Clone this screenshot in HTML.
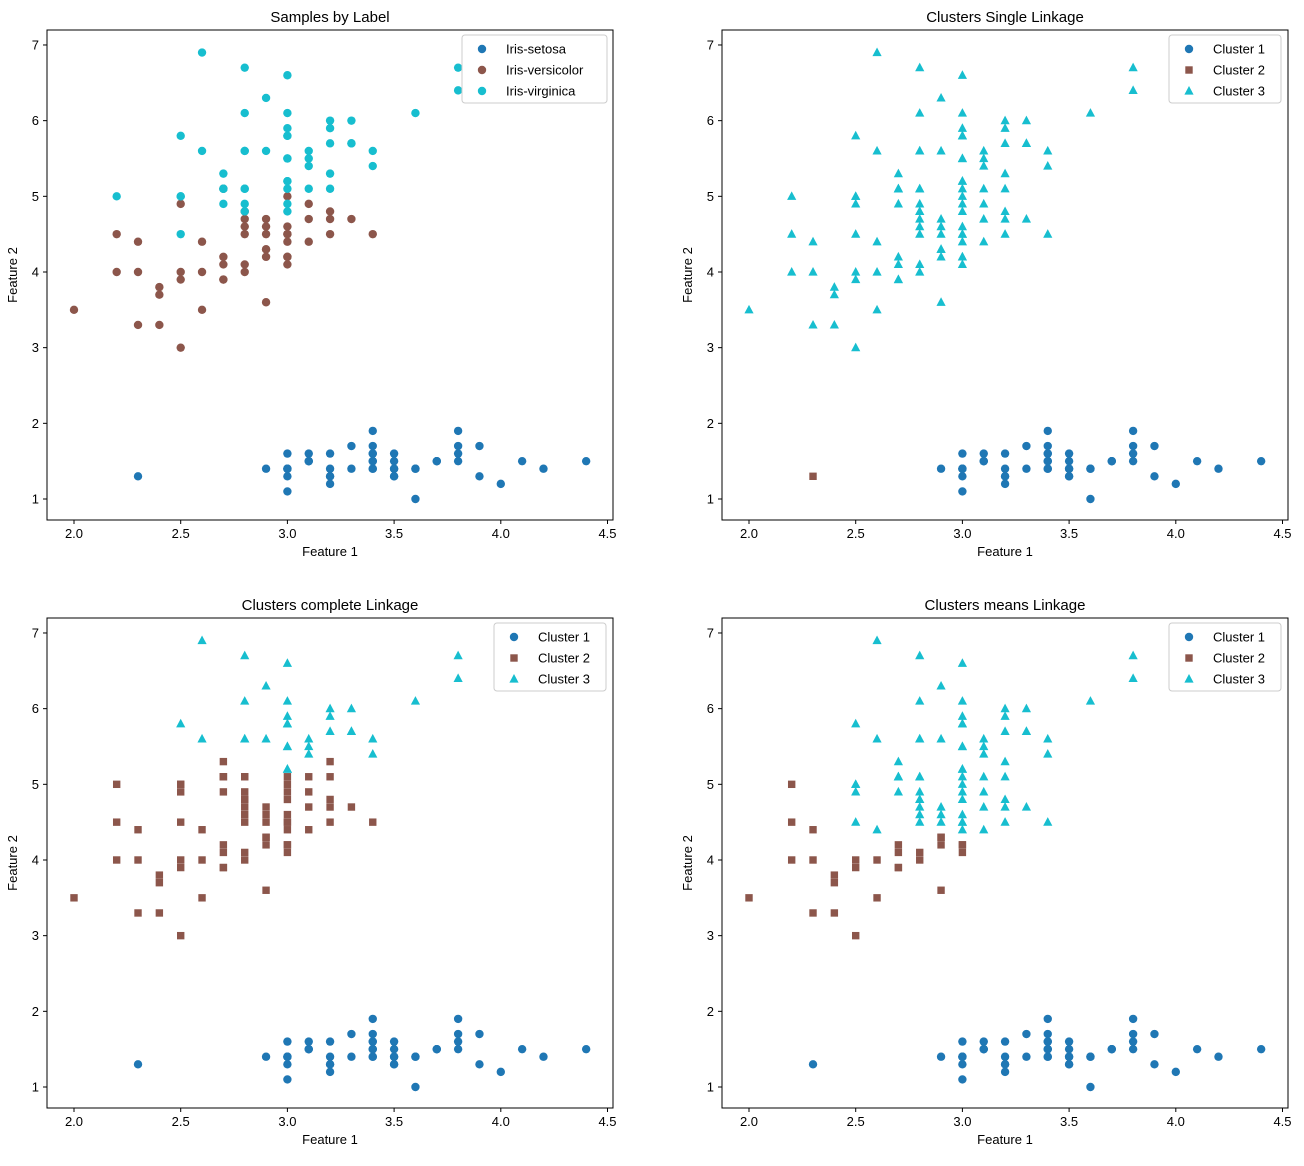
<!DOCTYPE html>
<html><head><meta charset="utf-8"><style>
body{margin:0;background:#fff;}
svg text{font-family:"Liberation Sans","DejaVu Sans",sans-serif;fill:#000;}
</style></head><body>
<svg id="fig" width="1304" height="1161" xmlns="http://www.w3.org/2000/svg"></svg>
<script>
const sw=[3.5,3.0,3.2,3.1,3.6,3.9,3.4,3.4,2.9,3.1,3.7,3.4,3.0,3.0,4.0,4.4,3.9,3.5,3.8,3.8,3.4,3.7,3.6,3.3,3.4,3.0,3.4,3.5,3.4,3.2,3.1,3.4,4.1,4.2,3.1,3.2,3.5,3.6,3.0,3.4,3.5,2.3,3.2,3.5,3.8,3.0,3.8,3.2,3.7,3.3,
3.2,3.2,3.1,2.3,2.8,2.8,3.3,2.4,2.9,2.7,2.0,3.0,2.2,2.9,2.9,3.1,3.0,2.7,2.2,2.5,3.2,2.8,2.5,2.8,2.9,3.0,2.8,3.0,2.9,2.6,2.4,2.4,2.7,2.7,3.0,3.4,3.1,2.3,3.0,2.5,2.6,3.0,2.6,2.3,2.7,3.0,2.9,2.9,2.5,2.8,
3.3,2.7,3.0,2.9,3.0,3.0,2.5,2.9,2.5,3.6,3.2,2.7,3.0,2.5,2.8,3.2,3.0,3.8,2.6,2.2,3.2,2.8,2.8,2.7,3.3,3.2,2.8,3.0,2.8,3.0,2.8,3.8,2.8,2.8,2.6,3.0,3.4,3.1,3.0,3.1,3.1,3.1,2.7,3.2,3.3,3.0,2.5,3.0,3.4,3.0];
const pl=[1.4,1.4,1.3,1.5,1.4,1.7,1.4,1.5,1.4,1.5,1.5,1.6,1.4,1.1,1.2,1.5,1.3,1.4,1.7,1.5,1.7,1.5,1.0,1.7,1.9,1.6,1.6,1.5,1.4,1.6,1.6,1.5,1.5,1.4,1.5,1.2,1.3,1.4,1.3,1.5,1.3,1.3,1.3,1.6,1.9,1.4,1.6,1.4,1.5,1.4,
4.7,4.5,4.9,4.0,4.6,4.5,4.7,3.3,4.6,3.9,3.5,4.2,4.0,4.7,3.6,4.4,4.5,4.1,4.5,3.9,4.8,4.0,4.9,4.7,4.3,4.4,4.8,5.0,4.5,3.5,3.8,3.7,3.9,5.1,4.5,4.5,4.7,4.4,4.1,4.0,4.4,4.6,4.0,3.3,4.2,4.2,4.2,4.3,3.0,4.1,
6.0,5.1,5.9,5.6,5.8,6.6,4.5,6.3,5.8,6.1,5.1,5.3,5.5,5.0,5.1,5.3,5.5,6.7,6.9,5.0,5.7,4.9,6.7,4.9,5.7,6.0,4.8,4.9,5.6,5.8,6.1,6.4,5.6,5.1,5.6,6.1,5.6,5.5,4.8,5.4,5.6,5.1,5.1,5.9,5.7,5.2,5.0,5.2,5.4,5.1];
const S50="1".repeat(50);
const labTrue=S50+"2".repeat(50)+"3".repeat(50);
const labSingle="1".repeat(41)+"2"+"1".repeat(8)+"3".repeat(100);
const labComplete=S50+"2".repeat(50)+"3233332333"+"2232223332"+"3232332233"+"3332333323"+"3223332332";
const labMeans=S50+"3332333232"+"2223233222"+"3233233332"+"2223333222"+"3322222222"+"3".repeat(19)+"2"+"3".repeat(30);
const xTicks=[2.0,2.5,3.0,3.5,4.0,4.5];
const yTicks=[1,2,3,4,5,6,7];
const colors={"1":"#1f77b4","2":"#8c564b","3":"#17becf"};
const NS="http://www.w3.org/2000/svg";
const fig=document.getElementById('fig');
function el(t,a,p){const e=document.createElementNS(NS,t);for(const k in a)e.setAttribute(k,a[k]);(p||fig).appendChild(e);return e;}
function marker(g,shape,cx,cy,c){
  let e;
  if(shape==='o')e=el('circle',{cx:cx,cy:cy,r:4.2,fill:c},g);
  else if(shape==='s')e=el('rect',{x:cx-3.7,y:cy-3.7,width:7.4,height:7.4,fill:c},g);
  else e=el('polygon',{points:`${cx},${cy-5} ${cx-4.6},${cy+3.6} ${cx+4.6},${cy+3.6}`,fill:c},g);
  return e;
}
const panels=[
 {x0:47,y0:30,title:"Samples by Label",lab:labTrue,shapes:{"1":"o","2":"o","3":"o"},names:["Iris-setosa","Iris-versicolor","Iris-virginica"],lx:462,lw:145},
 {x0:722,y0:30,title:"Clusters Single Linkage",lab:labSingle,shapes:{"1":"o","2":"s","3":"^"},names:["Cluster 1","Cluster 2","Cluster 3"],lx:1169,lw:112},
 {x0:47,y0:618,title:"Clusters complete Linkage",lab:labComplete,shapes:{"1":"o","2":"s","3":"^"},names:["Cluster 1","Cluster 2","Cluster 3"],lx:494,lw:112},
 {x0:722,y0:618,title:"Clusters means Linkage",lab:labMeans,shapes:{"1":"o","2":"s","3":"^"},names:["Cluster 1","Cluster 2","Cluster 3"],lx:1169,lw:112}
];
panels.forEach((P,pi)=>{
  const W=566,H=490;
  const g=el('g',{});
  
  
  const X=v=>P.x0+27+(v-2.0)*213.4;
  const Y=v=>P.y0+469-(v-1)*75.67;
  const pts=el('g',{},g);
  
  
  for(let i=0;i<sw.length;i++){
    const k=P.lab[i];
    const m=marker(pts,P.shapes[k],X(sw[i]),Y(pl[i]),colors[k]);
    
    
  }
  const fr=el('rect',{x:P.x0,y:P.y0,width:W,height:H,fill:'none',stroke:'#000','stroke-width':1},g);
  
  
  xTicks.forEach(t=>{
    const x=X(t);
    el('line',{x1:x,y1:P.y0+H,x2:x,y2:P.y0+H+4,stroke:'#000'},g);
    const tx=el('text',{x:x,y:P.y0+H+18,'font-size':13,'text-anchor':'middle'},g);
    tx.textContent=t.toFixed(1);
    
    
  });
  yTicks.forEach(t=>{
    const y=Y(t);
    el('line',{x1:P.x0-4,y1:y,x2:P.x0,y2:y,stroke:'#000'},g);
    const tx=el('text',{x:P.x0-8,y:y+4.5,'font-size':13,'text-anchor':'end'},g);
    tx.textContent=t;
    
    
  });
  const tt=el('text',{x:P.x0+W/2,y:P.y0-8,'font-size':15,'text-anchor':'middle'},g);
  tt.textContent=P.title;
  
  
  const xl=el('text',{x:P.x0+W/2,y:P.y0+H+36,'font-size':13,'text-anchor':'middle'},g);
  xl.textContent="Feature 1";
  
  
  const yl=el('text',{x:0,y:0,'font-size':13,'text-anchor':'middle',transform:`translate(${P.x0-30},${P.y0+H/2}) rotate(-90)`},g);
  yl.textContent="Feature 2";
  
  
  const lg=el('g',{},g);
  
  
  el('rect',{x:P.lx,y:P.y0+5,width:P.lw,height:68,rx:3,fill:'#fff','fill-opacity':0.8,stroke:'#ccc'},lg);
  ["1","2","3"].forEach((k,j)=>{
    const cy=P.y0+19+j*21;
    const e=el('g',{},lg);
    
    
    marker(e,P.shapes[k],P.lx+20,cy,colors[k]);
    const t=el('text',{x:P.lx+44,y:cy+4.5,'font-size':13},e);
    t.textContent=P.names[j];
  });
});
</script>
</body></html>
